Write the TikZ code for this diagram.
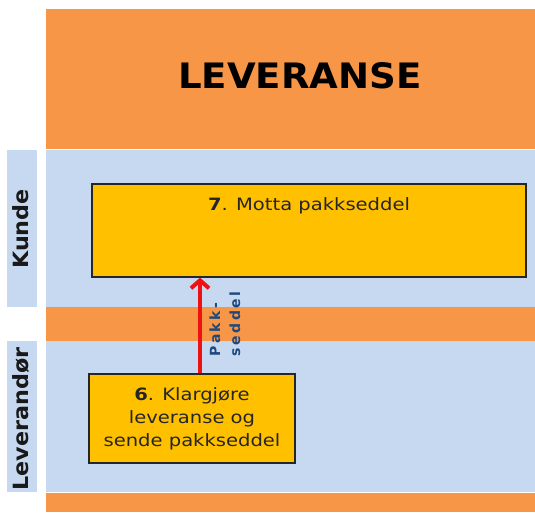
\documentclass[tikz,border=0pt]{standalone}
\usepackage{fontspec}
\setmainfont{DejaVu Sans}
\usepackage{xcolor}
\usepackage{tikz}
\usetikzlibrary{positioning,arrows.meta,calc}

\definecolor{bandorange}{HTML}{F79646}
\definecolor{bandblue}{HTML}{C6D9F1}
\definecolor{boxyellow}{HTML}{FFC000}
\definecolor{labelblue}{HTML}{1F497D}
\definecolor{arrowred}{HTML}{EE1111}

\begin{document}
\begin{tikzpicture}[x=1pt, y=-1pt,
    stepbox/.style={draw=black!85, line width=1.2pt, fill=boxyellow, inner sep=0pt},
    boxtext/.style={font=\fontsize{17}{23}\selectfont\addfontfeature{FakeStretch=1.15}, text=black!85},
    lanelabel/.style={rotate=90, font=\fontsize{21}{24}\selectfont\bfseries\addfontfeature{FakeStretch=1.06}, text=black!90}]
    \useasboundingbox (0,0) rectangle (535,512);
    
    % lanes
    \foreach \a/\b in {9/149, 307/341, 493/512}
        \fill[bandorange] (46,\a) rectangle (535,\b);
    \foreach \a/\b in {150/307, 341/492} {
        \fill[bandblue] (46,\a) rectangle (535,\b);
        \fill[bandblue] (7,\a) rectangle (37,\b);
    }
    
    \node[font=\fontsize{35}{40}\selectfont\bfseries\addfontfeature{FakeStretch=1.06}] (title) at (300,76) {LEVERANSE};
    \node[lanelabel] (kunde) at (21,229) {Kunde};
    \node[lanelabel] (leverandor) at (21,419) {Leverandør};
    
    % steps
    \node[stepbox, minimum width=434pt, minimum height=93pt,
        label={[boxtext, anchor=center, yshift=-22pt]north:{\textbf{7}. Motta pakkseddel}}]
        (motta) at (309,230.5) {};
    \node[stepbox, boxtext, minimum width=206pt, minimum height=89pt, align=center]
        (klargjore) at (192,418.5) {\textbf{6}. Klargjøre\\leveranse og\\sende pakkseddel};
    
    \coordinate (pk) at (200,0);
    \draw[arrowred, line width=4pt, -{Straight Barb[length=8pt, width=18pt]}]
        (klargjore.north -| pk) -- (motta.south -| pk);
    \node[rotate=90, align=left, text=labelblue,
        font=\fontsize{14}{20}\selectfont\bfseries\addfontfeature{LetterSpace=18}]
        (pakkseddel) at (225,324) {Pakk-\\seddel};
\end{tikzpicture}
\end{document}
